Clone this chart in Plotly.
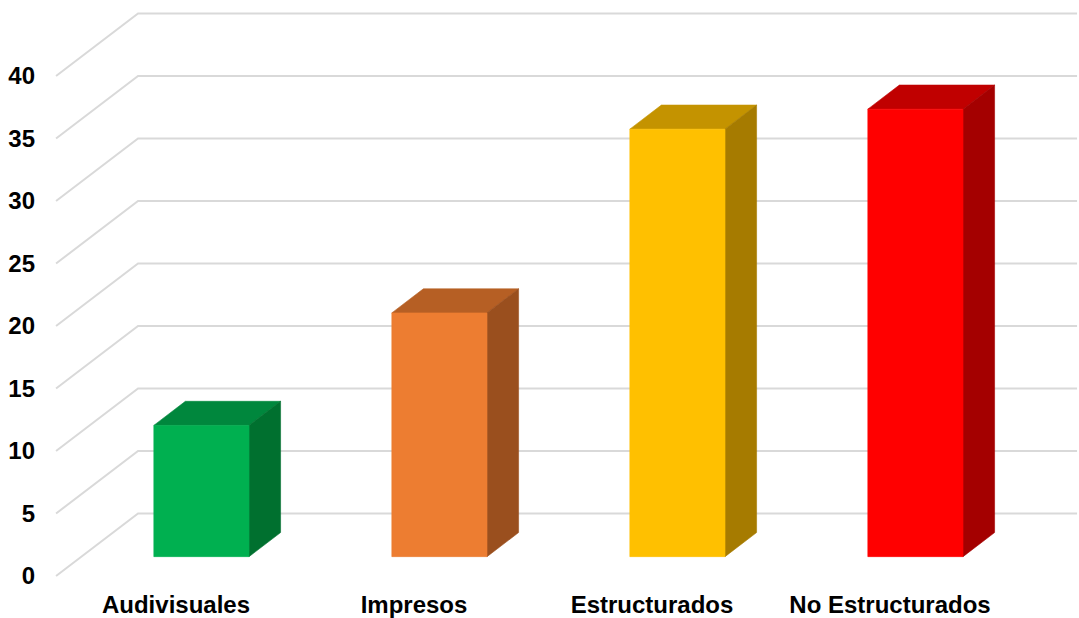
import plotly.graph_objects as go

# Data
categories = ["Audivisuales", "Impresos", "Estructurados", "No Estructurados"]
values = [10.5, 19.5, 34.2, 35.8]
y_ticks = [0, 5, 10, 15, 20, 25, 30, 35, 40]

# Face colours per bar: front, top, side
front_colors = ["#00B050", "#ED7D31", "#FFC000", "#FF0000"]
top_colors = ["#00873D", "#B65F24", "#C49300", "#C00000"]
side_colors = ["#00702F", "#9A4F1E", "#A67B00", "#A40000"]

# Oblique projection parameters (x in category units, y in value units)
DEPTH_X = 0.3445      # full depth shift along x
DEPTH_Y = 5.0         # full depth shift along y
BAR_D1 = 0.31         # depth of bar front face
BAR_D2 = 0.695        # depth of bar back face
BAR_HALF = 0.2        # half width of bar front face
WALL_X0 = -0.504      # left edge of floor / side wall
WALL_X1 = 3.786       # right end of back wall


def proj(x, v, d):
    return x + d * DEPTH_X, v + d * DEPTH_Y


def poly(points, color, line_color=None):
    xs = [p[0] for p in points] + [points[0][0]]
    ys = [p[1] for p in points] + [points[0][1]]
    return go.Scatter(
        x=xs, y=ys, mode="lines", fill="toself", fillcolor=color,
        line=dict(color=line_color or color, width=0.6),
        hoverinfo="skip", showlegend=False,
    )


fig = go.Figure()

# Grid: diagonal lines on the side wall plus horizontal lines on the back wall
for t in y_ticks:
    a = proj(WALL_X0, t, 0)
    b = proj(WALL_X0, t, 1)
    c = proj(WALL_X1 - DEPTH_X, t, 1)
    fig.add_trace(go.Scatter(
        x=[a[0], b[0], c[0]], y=[a[1], b[1], c[1]], mode="lines",
        line=dict(color="#D9D9D9", width=2),
        hoverinfo="skip", showlegend=False,
    ))

# 3D bars
for i, v in enumerate(values):
    xl, xr = i - BAR_HALF, i + BAR_HALF
    top = [proj(xl, v, BAR_D1), proj(xr, v, BAR_D1), proj(xr, v, BAR_D2), proj(xl, v, BAR_D2)]
    side = [proj(xr, 0, BAR_D1), proj(xr, 0, BAR_D2), proj(xr, v, BAR_D2), proj(xr, v, BAR_D1)]
    front = [proj(xl, 0, BAR_D1), proj(xr, 0, BAR_D1), proj(xr, v, BAR_D1), proj(xl, v, BAR_D1)]
    fig.add_trace(poly(top, top_colors[i]))
    fig.add_trace(poly(side, side_colors[i]))
    fig.add_trace(poly(front, front_colors[i]))

label_font = dict(family="Liberation Sans, Arial, sans-serif", size=24, color="#000000", weight="bold")

fig.update_layout(
    width=1079, height=618,
    margin=dict(l=44, r=0, t=0, b=30),
    paper_bgcolor="white", plot_bgcolor="white",
    xaxis=dict(
        range=[(44 - 176) / 238, (1079 - 176) / 238],
        tickvals=list(range(len(categories))), ticktext=categories,
        showgrid=False, zeroline=False, showline=False, ticks="",
        tickfont=label_font, fixedrange=True,
    ),
    yaxis=dict(
        range=[(576 - 588) / 12.5, 576 / 12.5],
        tickvals=y_ticks, ticktext=[str(t) for t in y_ticks],
        showgrid=False, zeroline=False, showline=False, ticks="",
        tickfont=label_font, ticklabelstandoff=8, fixedrange=True,
    ),
)

fig.write_html("out.html")
